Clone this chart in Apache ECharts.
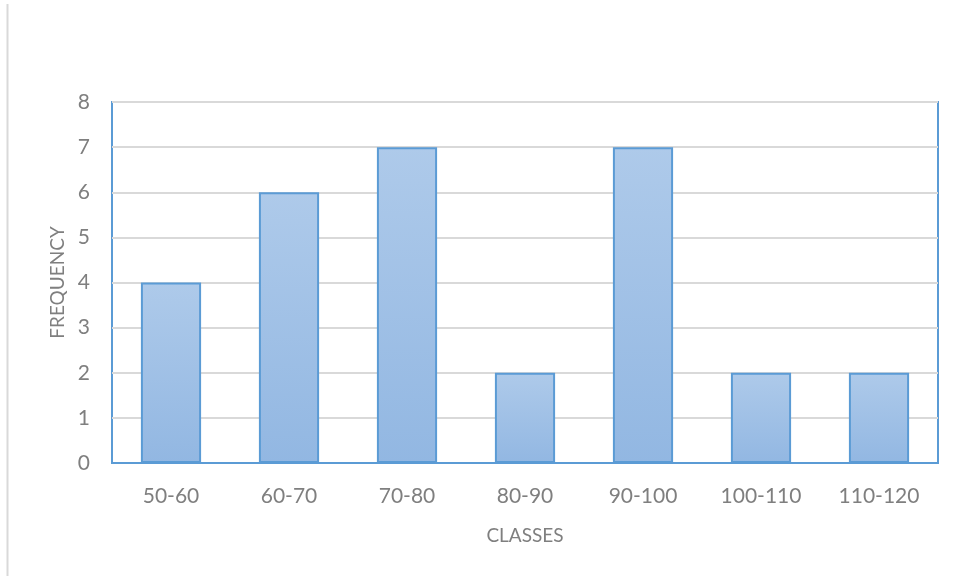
<!DOCTYPE html>
<html><head><meta charset="utf-8">
<script src="https://cdn.jsdelivr.net/npm/echarts@6/dist/echarts.min.js"></script>
<style>html,body{margin:0;padding:0;background:#fff}#c{width:960px;height:576px}</style>
</head><body><div id="c"></div>
<script>
const categories = ['50-60','60-70','70-80','80-90','90-100','100-110','110-120'];
const frequency = [4,6,7,2,7,2,2];
const yTicks = {min:0,max:8,interval:1};
const chart = echarts.init(document.getElementById('c'));
const font = 'Lato, "Open Sans", sans-serif';
chart.setOption({
  animation:false,
  backgroundColor:'#fff',
  graphic:[{type:'line',shape:{x1:7.5,y1:4,x2:7.5,y2:576},style:{stroke:'#d9d9d9',lineWidth:2}}],
  grid:{left:112,right:22,top:102,bottom:113,show:true,borderColor:'#5b9bd5',borderWidth:2,containLabel:false},
  xAxis:{type:'category',data:categories,
    name:'CLASSES',nameLocation:'middle',nameGap:63,
    nameTextStyle:{color:'#7f7f7f',fontSize:19,fontFamily:font},
    axisLine:{show:true,lineStyle:{color:'#5b9bd5',width:2}},axisTick:{show:false},
    axisLabel:{color:'#7f7f7f',fontSize:21,fontFamily:font,margin:23}},
  yAxis:{type:'value',min:yTicks.min,max:yTicks.max,interval:yTicks.interval,
    name:'FREQUENCY',nameLocation:'middle',nameGap:43,nameRotate:90,
    nameTextStyle:{color:'#7f7f7f',fontSize:19,fontFamily:font},
    axisLine:{show:false},axisTick:{show:false},
    axisLabel:{color:'#7f7f7f',fontSize:21,fontFamily:font,margin:22},
    splitLine:{lineStyle:{color:'#d9d9d9',width:2}}},
  series:[{type:'bar',data:frequency,barCategoryGap:'49%',
    itemStyle:{borderColor:'#5b9bd5',borderWidth:2,
      color:{type:'linear',x:0,y:0,x2:0,y2:1,colorStops:[{offset:0,color:'#aecaea'},{offset:1,color:'#92b7e2'}]}}}]
});
</script></body></html>
